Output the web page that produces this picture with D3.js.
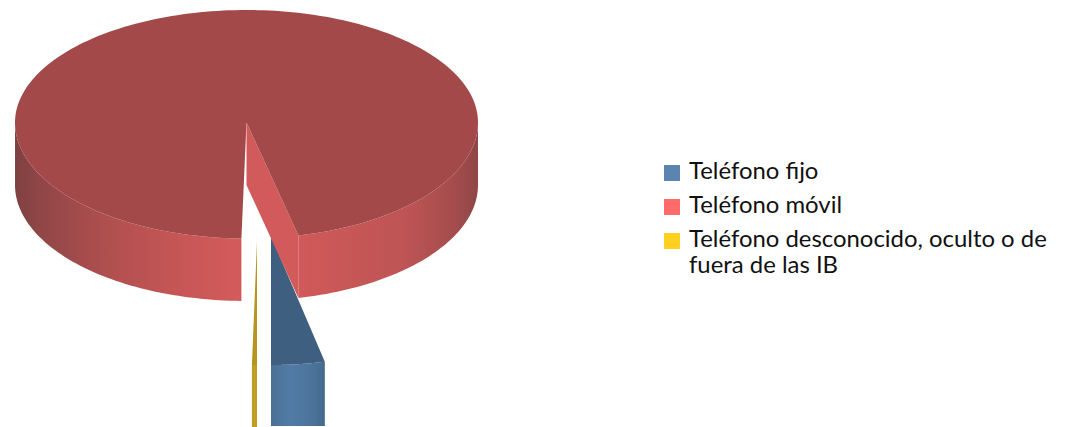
<!DOCTYPE html>
<html><head><meta charset="utf-8">
<script src="https://cdn.jsdelivr.net/npm/d3@7/dist/d3.min.js"></script>
<style>html,body{margin:0;padding:0;background:#fff;overflow:hidden}svg{display:block}</style>
</head><body><svg id="c" width="1067" height="427"></svg>
<script>
const categories = ["Teléfono fijo","Teléfono móvil","Teléfono desconocido, oculto o de fuera de las IB"];
const values = [3.6, 96.05, 0.35];
const legendLines = [["Teléfono fijo"],["Teléfono móvil"],["Teléfono desconocido, oculto o de","fuera de las IB"]];
const legendColors = ["#5b84b1","#ff6b6b","#ffd020"];
const topColors = ["#3e5f80","#a34949","#b5951f"];
const wallStops = [
  [[0,"#4a7096"],[0.35,"#527ca6"],[0.8,"#4b7299"],[1,"#44688c"]],
  [[0,"#7f4040"],[0.05,"#8f4646"],[0.2,"#b04f4f"],[0.35,"#c65656"],[0.49,"#d45b5b"],[0.62,"#d05959"],[0.85,"#bd5454"],[0.95,"#a44c4c"],[1,"#8f4646"]],
  [[0,"#c09f20"],[1,"#c09f20"]]
];
// exploded-slice placement: apex in px, horizontal radius, back and front vertical radii, wall depth
const layout = [
  {cx:271,cy:236,rx:240,back:112,front:129,depth:66,x0:271,x1:326},
  {cx:246.5,cy:122.5,rx:231.5,back:112.5,front:116,depth:62.5,x0:15,x1:478},
  {cx:257,cy:241,rx:231,back:112,front:124,depth:66,x0:252,x1:257}
];
// slice order around the pie: fijo, desconocido, móvil, clockwise from just right of 6 o'clock
const ringOrder = [0,2,1];
const total = d3.sum(values);
const a0 = Math.PI - values[0]/total*2*Math.PI;
const arcs = d3.pie().value(d=>d).startAngle(a0).endAngle(a0+2*Math.PI)
  .sort((p,q)=>ringOrder.indexOf(values.indexOf(p))-ringOrder.indexOf(values.indexOf(q)))(values);

const svg = d3.select("#c");
const defs = svg.append("defs");
const line = d3.line();
function proj(L,a){
  const c = Math.cos(a);
  return [L.cx + L.rx*Math.sin(a), L.cy - (c>0?L.back:L.front)*c];
}
function samples(s,e){ return d3.range(0,241).map(i=>s+(e-s)*i/240); }

defs.append("clipPath").attr("id","clipB").append("rect").attr("x",0).attr("y",0).attr("width",1067).attr("height",426);
layout.forEach((L,i)=>{
  const g = defs.append("linearGradient").attr("id","w"+i).attr("gradientUnits","userSpaceOnUse")
    .attr("x1",L.x0).attr("x2",L.x1).attr("y1",0).attr("y2",0);
  wallStops[i].forEach(s=>g.append("stop").attr("offset",s[0]).attr("stop-color",s[1]));
});

[0,2,1].forEach(i=>{
  const L = layout[i], A = arcs[i];
  const as = samples(A.startAngle,A.endAngle);
  const pts = as.map(a=>proj(L,a));
  const apex = [L.cx,L.cy];
  const g = svg.append("g");
  if(i===0) g.attr("clip-path","url(#clipB)");
  let seg = [];
  const segs = [];
  as.forEach((a,k)=>{
    if(Math.cos(a)<=0.001){ seg.push(pts[k]); }
    else { if(seg.length>1) segs.push(seg); seg=[]; }
  });
  if(seg.length>1) segs.push(seg);
  segs.forEach(s=>{
    const poly = s.concat(s.slice().reverse().map(p=>[p[0],p[1]+L.depth]));
    g.append("path").attr("d",line(poly)+"Z").attr("fill",`url(#w${i})`);
  });
  if(i===1){
    const e = pts[pts.length-1], st = pts[0];
    const edge = (Math.abs(e[0]-298)<Math.abs(st[0]-298))?e:st;
    g.append("path").attr("d",line([apex,edge,[edge[0],edge[1]+L.depth],[apex[0],apex[1]+L.depth]])+"Z").attr("fill","#d25a5a");
  }
  g.append("path").attr("d",line([apex].concat(pts))+"Z").attr("fill",topColors[i]);
});

const lg = svg.append("g").attr("font-family","Lato, 'Open Sans', sans-serif").attr("font-size",23.9).attr("fill","#111");
const swatchY = [165,199,233], baseY=[[179],[213],[247,273]];
categories.forEach((c,i)=>{
  lg.append("rect").attr("x",664).attr("y",swatchY[i]).attr("width",16).attr("height",16).attr("fill",legendColors[i]);
  const t = lg.append("text");
  legendLines[i].forEach((s,j)=>t.append("tspan").attr("x",689).attr("y",baseY[i][j]).text(s));
});
</script></body></html>
